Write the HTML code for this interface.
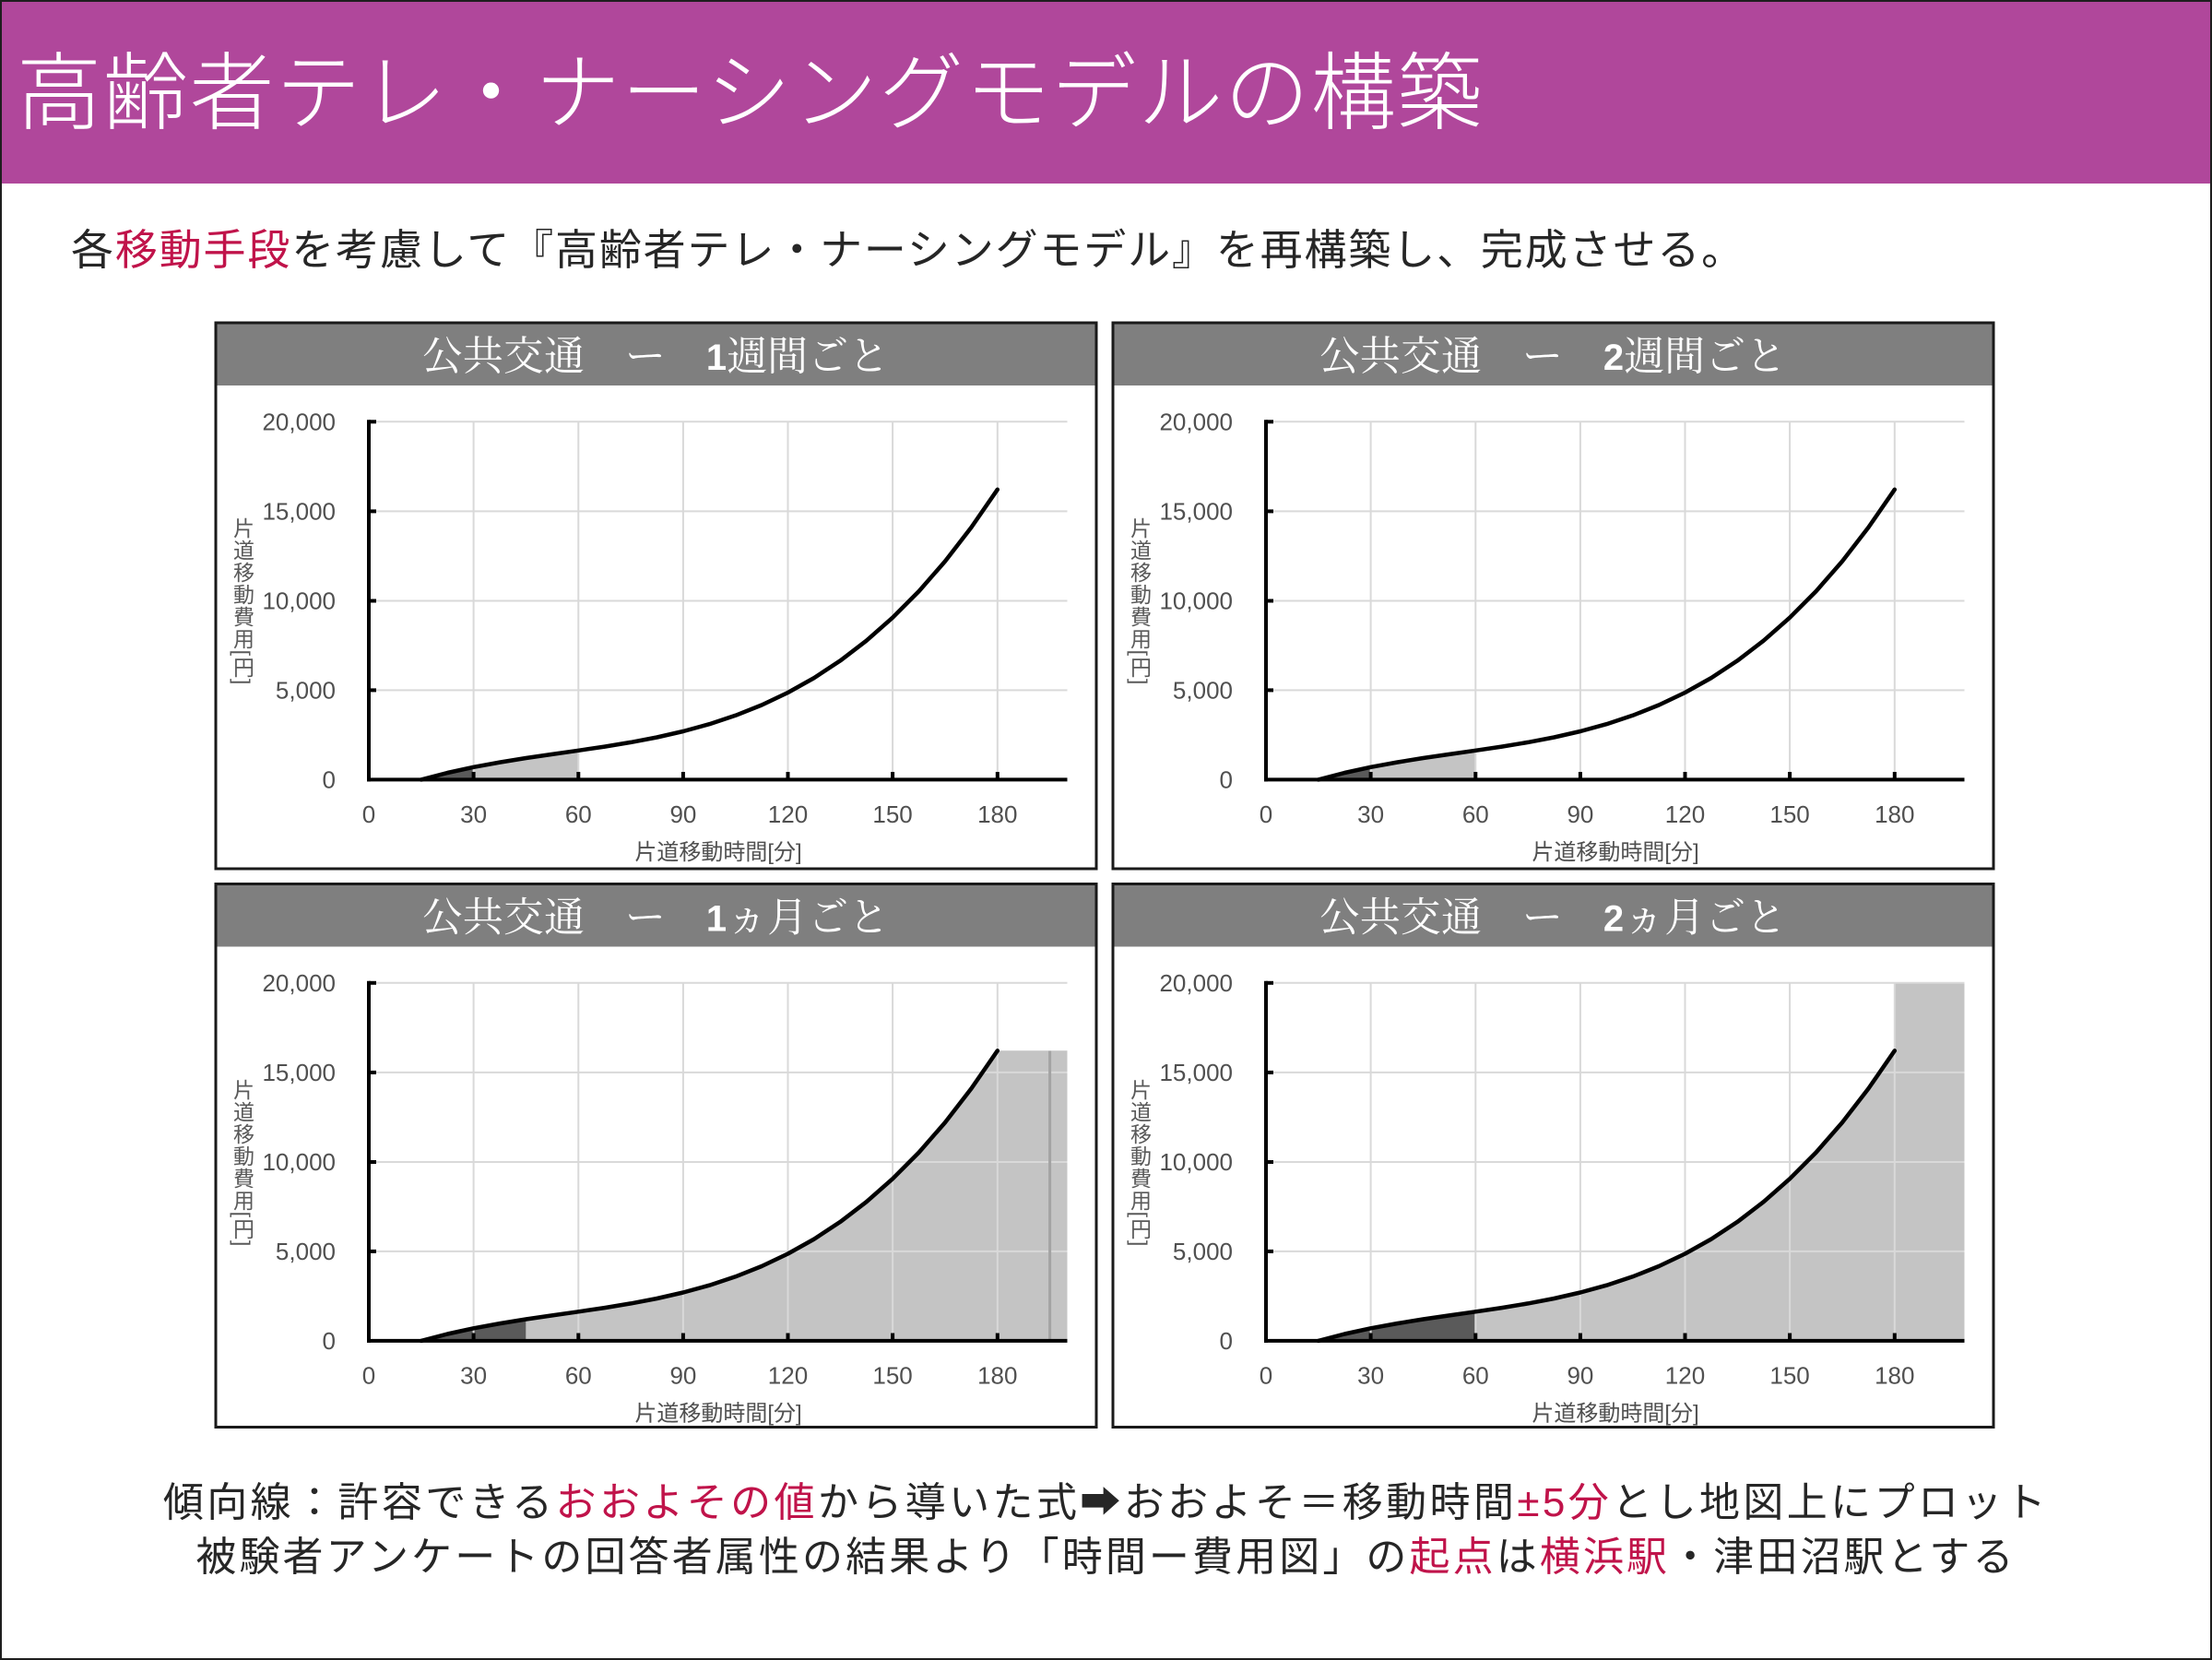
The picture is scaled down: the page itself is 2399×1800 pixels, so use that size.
<!DOCTYPE html>
<html lang="ja">
<head>
<meta charset="utf-8">
<style>
  html,body{margin:0;padding:0;}
  body{width:2399px;height:1800px;position:relative;overflow:hidden;background:#fff;
       font-family:"Liberation Sans","Noto Sans CJK JP",sans-serif;}
  .hdr{position:absolute;left:0;top:0;width:2399px;height:199px;background:#B0479B;}
  .title{position:absolute;left:18px;top:56px;font-size:92px;line-height:92px;color:#fff;
         letter-spacing:1.7px;white-space:nowrap;font-weight:300;}
  .sub{position:absolute;left:77px;top:248px;font-size:46px;line-height:46px;color:#262626;
       letter-spacing:1.85px;white-space:nowrap;}
  .red{color:#C0134A;}
  .bl{position:absolute;left:0;width:2399px;text-align:center;font-size:44px;line-height:44px;
      color:#262626;white-space:nowrap;}
  .frame{position:absolute;left:0;top:0;width:2399px;height:1800px;box-sizing:border-box;
         border:2px solid #1e1e1e;pointer-events:none;}
  svg{position:absolute;left:0;top:0;}
  .vt{position:absolute;writing-mode:vertical-rl;font-size:23px;line-height:23px;color:#595959;
      letter-spacing:1px;transform:translate(-50%,-50%);white-space:nowrap;
      font-family:"Liberation Sans","Noto Sans CJK JP",sans-serif;}
</style>
</head>
<body>
<div class="hdr"></div>
<div class="title">高齢者テレ・ナーシングモデルの構築</div>
<div class="sub">各<span class="red">移動手段</span>を考慮して『高齢者テレ・ナーシングモデル』を再構築し、完成させる。</div>

<svg width="2399" height="1800" viewBox="0 0 2399 1800" xmlns="http://www.w3.org/2000/svg">
  <defs>
    <g id="frame1">
      <rect x="234" y="350" width="955" height="592" fill="#fff" stroke="#1a1a1a" stroke-width="3"/>
      <rect x="235.5" y="351.5" width="952" height="66.5" fill="#7f7f7f"/>
    </g>
    <g id="frame2">
      <rect x="234" y="350" width="955" height="589" fill="#fff" stroke="#1a1a1a" stroke-width="3"/>
      <rect x="235.5" y="351.5" width="952" height="66.5" fill="#7f7f7f"/>
    </g>
    <g id="grid">
      <g stroke="#d9d9d9" stroke-width="2" fill="none">
        <line x1="400" y1="457.3" x2="1157.5" y2="457.3"/>
        <line x1="400" y1="554.4" x2="1157.5" y2="554.4"/>
        <line x1="400" y1="651.5" x2="1157.5" y2="651.5"/>
        <line x1="400" y1="748.4" x2="1157.5" y2="748.4"/>
        <line x1="513.6" y1="457.3" x2="513.6" y2="845.4"/>
        <line x1="627.3" y1="457.3" x2="627.3" y2="845.4"/>
        <line x1="740.9" y1="457.3" x2="740.9" y2="845.4"/>
        <line x1="854.5" y1="457.3" x2="854.5" y2="845.4"/>
        <line x1="968.1" y1="457.3" x2="968.1" y2="845.4"/>
        <line x1="1081.8" y1="457.3" x2="1081.8" y2="845.4"/>
      </g>
    </g>
    <g id="curveaxes">
      <path d="M456.8,845.4 L485.2,838.0 L513.6,831.8 L542.0,826.6 L570.4,822.0 L598.8,817.9 L627.3,813.8 L655.7,809.6 L684.1,804.9 L712.5,799.5 L740.9,793.0 L769.3,785.2 L797.7,775.8 L826.1,764.5 L854.5,751.0 L882.9,735.1 L911.3,716.4 L939.7,694.7 L968.1,669.7 L996.6,641.1 L1025.0,608.6 L1053.4,571.9 L1081.8,530.8" fill="none" stroke="#000" stroke-width="4.5" stroke-linejoin="round" stroke-linecap="round"/>
      <g stroke="#000" stroke-width="4" fill="none">
        <line x1="400" y1="455.3" x2="400" y2="847.4"/>
        <line x1="398" y1="845.4" x2="1157.5" y2="845.4"/>
        <line x1="400" y1="457.3" x2="408" y2="457.3"/>
        <line x1="400" y1="554.4" x2="408" y2="554.4"/>
        <line x1="400" y1="651.5" x2="408" y2="651.5"/>
        <line x1="400" y1="748.4" x2="408" y2="748.4"/>
        <line x1="513.6" y1="845.4" x2="513.6" y2="837"/>
        <line x1="627.3" y1="845.4" x2="627.3" y2="837"/>
        <line x1="740.9" y1="845.4" x2="740.9" y2="837"/>
        <line x1="854.5" y1="845.4" x2="854.5" y2="837"/>
        <line x1="968.1" y1="845.4" x2="968.1" y2="837"/>
        <line x1="1081.8" y1="845.4" x2="1081.8" y2="837"/>
      </g>
      <g font-family="Liberation Sans, sans-serif" font-size="26" fill="#505050">
        <g text-anchor="end">
          <text x="364" y="466.3">20,000</text>
          <text x="364" y="563.4">15,000</text>
          <text x="364" y="660.5">10,000</text>
          <text x="364" y="757.4">5,000</text>
          <text x="364" y="854.4">0</text>
        </g>
        <g text-anchor="middle">
          <text x="400" y="892">0</text>
          <text x="513.6" y="892">30</text>
          <text x="627.3" y="892">60</text>
          <text x="740.9" y="892">90</text>
          <text x="854.5" y="892">120</text>
          <text x="968.1" y="892">150</text>
          <text x="1081.8" y="892">180</text>
        </g>
      </g>
      <text x="779" y="932" text-anchor="middle" font-family="Liberation Sans, Noto Sans CJK JP, sans-serif" font-size="24" fill="#505050">片道移動時間[分]</text>
    </g>
  </defs>

  <!-- Panel 1 -->
  <g>
    <use href="#frame1"/>
    <path d="M456.8,845.4 L485.2,838.0 L513.6,831.8 L513.6,845.4 Z" fill="#5a5a5a"/>
    <path d="M513.6,831.8 L542.0,826.6 L570.4,822.0 L598.8,817.9 L627.3,813.8 L627.3,845.4 L513.6,845.4 Z" fill="#c4c4c4"/>
    <use href="#grid"/>
    <use href="#curveaxes"/>
    <text x="711" y="401" text-anchor="middle" font-family="Liberation Serif, Noto Serif CJK SC, serif" font-size="44" fill="#fff">公共交通　ー　<tspan font-family="Liberation Sans, sans-serif" font-weight="bold" font-size="40">1</tspan>週間ごと</text>
  </g>

  <!-- Panel 2 -->
  <g transform="translate(973,0)">
    <use href="#frame1"/>
    <path d="M456.8,845.4 L485.2,838.0 L513.6,831.8 L513.6,845.4 Z" fill="#5a5a5a"/>
    <path d="M513.6,831.8 L542.0,826.6 L570.4,822.0 L598.8,817.9 L627.3,813.8 L627.3,845.4 L513.6,845.4 Z" fill="#c4c4c4"/>
    <use href="#grid"/>
    <use href="#curveaxes"/>
    <text x="711" y="401" text-anchor="middle" font-family="Liberation Serif, Noto Serif CJK SC, serif" font-size="44" fill="#fff">公共交通　ー　<tspan font-family="Liberation Sans, sans-serif" font-weight="bold" font-size="40">2</tspan>週間ごと</text>
  </g>

  <!-- Panel 3 -->
  <g transform="translate(0,608.5)">
    <use href="#frame2"/>
    <path d="M456.8,845.4 L485.2,838.0 L513.6,831.8 L542.0,826.6 L570.4,822.0 L570.4,845.4 Z" fill="#5a5a5a"/>
    <path d="M570.4,822.0 L598.8,817.9 L627.3,813.8 L655.7,809.6 L684.1,804.9 L712.5,799.5 L740.9,793.0 L769.3,785.2 L797.7,775.8 L826.1,764.5 L854.5,751.0 L882.9,735.1 L911.3,716.4 L939.7,694.7 L968.1,669.7 L996.6,641.1 L1025.0,608.6 L1053.4,571.9 L1081.8,530.8 L1157.5,530.8 L1157.5,845.4 L570.4,845.4 Z" fill="#c4c4c4"/>
    <use href="#grid"/>
    <line x1="1138.6" y1="531" x2="1138.6" y2="845.4" stroke="#a3a3a3" stroke-width="3"/>
    <use href="#curveaxes"/>
    <text x="711" y="401" text-anchor="middle" font-family="Liberation Serif, Noto Serif CJK SC, serif" font-size="44" fill="#fff">公共交通　ー　<tspan font-family="Liberation Sans, sans-serif" font-weight="bold" font-size="40">1</tspan>ヵ月ごと</text>
  </g>

  <!-- Panel 4 -->
  <g transform="translate(973,608.5)">
    <use href="#frame2"/>
    <path d="M456.8,845.4 L485.2,838.0 L513.6,831.8 L542.0,826.6 L570.4,822.0 L598.8,817.9 L627.3,813.8 L627.3,845.4 Z" fill="#5a5a5a"/>
    <path d="M627.3,813.8 L655.7,809.6 L684.1,804.9 L712.5,799.5 L740.9,793.0 L769.3,785.2 L797.7,775.8 L826.1,764.5 L854.5,751.0 L882.9,735.1 L911.3,716.4 L939.7,694.7 L968.1,669.7 L996.6,641.1 L1025.0,608.6 L1053.4,571.9 L1081.8,530.8 L1081.8,457.3 L1157.5,457.3 L1157.5,845.4 L627.3,845.4 Z" fill="#c4c4c4"/>
    <use href="#grid"/>
    <use href="#curveaxes"/>
    <text x="711" y="401" text-anchor="middle" font-family="Liberation Serif, Noto Serif CJK SC, serif" font-size="44" fill="#fff">公共交通　ー　<tspan font-family="Liberation Sans, sans-serif" font-weight="bold" font-size="40">2</tspan>ヵ月ごと</text>
  </g>
</svg>

<div class="vt" style="left:262px;top:652px;">片道移動費用[円]</div>
<div class="vt" style="left:1235px;top:652px;">片道移動費用[円]</div>
<div class="vt" style="left:262px;top:1260.5px;">片道移動費用[円]</div>
<div class="vt" style="left:1235px;top:1260.5px;">片道移動費用[円]</div>

<div class="bl" style="top:1608px;letter-spacing:3.4px;">傾向線：許容できる<span class="red">おおよその値</span>から導いた式➡おおよそ＝移動時間<span class="red">±5分</span>とし地図上にプロット</div>
<div class="bl" style="top:1667px;letter-spacing:3.1px;">被験者アンケートの回答者属性の結果より「時間ー費用図」の<span class="red">起点</span>は<span class="red">横浜駅</span>・津田沼駅とする</div>

<div class="frame"></div>
</body>
</html>
